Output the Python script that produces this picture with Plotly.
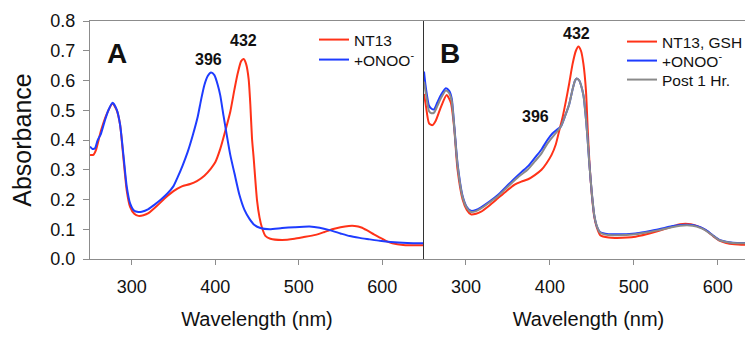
import plotly.graph_objects as go

# ---------------- Data ----------------
# Panel A
a_red_wl = [250, 254, 257, 263, 270, 277, 282, 286, 290, 294, 298, 303, 308, 314, 320, 330, 340, 350, 360, 370,
            378, 387, 395, 400, 406, 412, 418, 423, 427, 431, 434, 437, 440, 442, 444, 446, 450, 453, 456, 460,
            466, 480, 495, 505, 520, 530, 540, 550, 560, 567, 575, 582, 590, 598, 605, 612, 625, 650]
a_red_abs = [0.350, 0.350, 0.365, 0.430, 0.487, 0.523, 0.500, 0.452, 0.340, 0.230, 0.175, 0.152, 0.145, 0.147,
             0.154, 0.178, 0.205, 0.228, 0.244, 0.252, 0.262, 0.280, 0.305, 0.325, 0.370, 0.430, 0.495, 0.570,
             0.625, 0.665, 0.672, 0.655, 0.605, 0.520, 0.406, 0.340, 0.198, 0.140, 0.105, 0.078, 0.068, 0.064,
             0.068, 0.073, 0.081, 0.090, 0.100, 0.107, 0.111, 0.111, 0.106, 0.096, 0.083, 0.071, 0.060, 0.053,
             0.047, 0.046]

a_blue_wl = [250, 253, 256, 259, 263, 268, 272, 277, 282, 286, 290, 294, 298, 303, 308, 312, 320, 327, 335, 343,
             350, 355, 361, 367, 373, 379, 383, 387, 391, 395, 399, 403, 406, 410, 413, 418, 423, 429, 435, 441,
             447, 454, 465, 480, 495, 513, 525, 537, 550, 561, 573, 585, 597, 610, 630, 650]
a_blue_abs = [0.378, 0.370, 0.372, 0.398, 0.420, 0.467, 0.500, 0.525, 0.502, 0.452, 0.350, 0.243, 0.187, 0.162,
              0.158, 0.159, 0.168, 0.182, 0.200, 0.221, 0.245, 0.275, 0.315, 0.360, 0.415, 0.478, 0.535, 0.585,
              0.615, 0.627, 0.618, 0.585, 0.550, 0.480, 0.430, 0.350, 0.288, 0.215, 0.165, 0.135, 0.114, 0.104,
              0.100, 0.104, 0.107, 0.109, 0.105, 0.097, 0.086, 0.077, 0.071, 0.066, 0.061, 0.057, 0.054, 0.053]

# Panel B
b_wl = [250, 252, 256, 259, 262, 266, 271, 276, 280, 283, 286, 290, 296, 301, 306, 312, 318, 328, 338, 348,
        358, 366, 374, 382, 390, 397, 403, 409, 413, 418, 423, 427, 430, 432, 435, 437, 440, 443, 445, 447,
        450, 453, 456, 460, 466, 475, 502, 515, 530, 545, 555, 570, 580, 586, 594, 602, 610, 618, 642]
b_red_wl = [250, 252, 256, 260, 264, 270, 277, 282, 286, 290, 296, 301, 306, 312, 318, 328, 338, 348, 358, 366,
            374, 382, 390, 396, 402, 407, 411, 415, 419, 423, 427, 431, 434, 437, 440, 443, 445, 447, 450, 453,
            456, 460, 470, 480, 502, 515, 530, 545, 555, 568, 578, 586, 594, 602, 610, 620, 642]
b_red_abs = [0.555, 0.520, 0.456, 0.450, 0.465, 0.510, 0.551, 0.525, 0.440, 0.300, 0.200, 0.165, 0.150, 0.152,
             0.159, 0.180, 0.204, 0.228, 0.250, 0.260, 0.268, 0.282, 0.300, 0.322, 0.350, 0.385, 0.430, 0.475,
             0.530, 0.590, 0.655, 0.700, 0.714, 0.700, 0.655, 0.565, 0.440, 0.330, 0.215, 0.140, 0.105, 0.080,
             0.072, 0.071, 0.075, 0.083, 0.095, 0.108, 0.117, 0.117, 0.108, 0.096, 0.078, 0.062, 0.054, 0.050,
             0.047]
b_blue_abs = [0.630, 0.580, 0.515, 0.505, 0.503, 0.527, 0.555, 0.574, 0.565, 0.540, 0.450, 0.320, 0.212, 0.175,
              0.162, 0.165, 0.174, 0.193, 0.215, 0.243, 0.271, 0.292, 0.312, 0.340, 0.368, 0.400, 0.422, 0.436,
              0.445, 0.480, 0.520, 0.570, 0.600, 0.607, 0.600, 0.585, 0.550, 0.470, 0.400, 0.320, 0.220, 0.145,
              0.110, 0.090, 0.085, 0.083, 0.086, 0.092, 0.100, 0.110, 0.114, 0.114, 0.106, 0.097, 0.080, 0.064,
              0.058, 0.055, 0.053]
b_gray_abs = [0.596, 0.560, 0.497, 0.490, 0.492, 0.515, 0.545, 0.566, 0.557, 0.532, 0.445, 0.315, 0.208, 0.172,
              0.158, 0.161, 0.170, 0.190, 0.211, 0.238, 0.265, 0.284, 0.302, 0.328, 0.355, 0.388, 0.410, 0.430,
              0.445, 0.480, 0.520, 0.570, 0.600, 0.607, 0.600, 0.585, 0.550, 0.470, 0.400, 0.320, 0.220, 0.145,
              0.110, 0.088, 0.082, 0.080, 0.083, 0.089, 0.097, 0.107, 0.112, 0.112, 0.104, 0.095, 0.079, 0.063,
              0.057, 0.054, 0.052]

x_ticks = [300, 400, 500, 600]

RED = "#FF3218"
BLUE = "#1E3CFF"
GRAY = "#8A8A8A"
FONT = "Liberation Sans, Arial, sans-serif"
AXC = "#8C8C8C"

# The page body has an 8px default margin, so the figure is sized to fit the 753x339 window.
W, H = 745, 331
L, T, B = 82, 13, 80
PW, PH = W - L, H - T - B  # 663 x 238


def px_x(sx):  # screen x (reference pixels) -> paper x
    return (sx - 8 - L) / PW


def px_y(sy):  # screen y -> paper y
    return (H - B - (sy - 8)) / PH


fig = go.Figure()


def add(x, y, name, color, xa, ya, leg):
    fig.add_trace(go.Scatter(x=x, y=y, mode="lines", name=name,
                             line=dict(color=color, width=2, shape="spline", smoothing=0.6),
                             xaxis=xa, yaxis=ya, legend=leg))


add(a_red_wl, a_red_abs, "NT13", RED, "x", "y", "legend")
add(a_blue_wl, a_blue_abs, "+ONOO<sup>-</sup>", BLUE, "x", "y", "legend2")
add(b_red_wl, b_red_abs, "NT13, GSH", RED, "x2", "y2", "legend3")
add(b_wl, b_blue_abs, "+ONOO<sup>-</sup>", BLUE, "x2", "y2", "legend4")
add(b_wl, b_gray_abs, "Post 1 Hr.", GRAY, "x2", "y2", "legend5")

d = 334 / 663

xcommon = dict(tickvals=x_ticks, ticks="outside", ticklen=5, tickcolor=AXC, showline=True, linecolor=AXC,
               linewidth=1, mirror=True, showgrid=False, zeroline=False, ticklabelstandoff=6, automargin=False,
               tickfont=dict(family=FONT, size=18, color="#111"),
               title=dict(text="Wavelength (nm)", font=dict(family=FONT, size=20, color="#111"), standoff=16))

legfont = dict(family=FONT, size=15.5, color="#111")


def leg(sx, sy):
    return dict(x=px_x(sx), y=px_y(sy), xanchor="left", yanchor="middle", bgcolor="rgba(0,0,0,0)",
                font=legfont, itemwidth=30, borderwidth=0)


fig.update_layout(
    width=W, height=H,
    margin=dict(l=L, r=0, t=T, b=B, autoexpand=False, pad=0),
    paper_bgcolor="white", plot_bgcolor="white",
    xaxis=dict(domain=[0, d], range=[250, 650], anchor="y", **xcommon),
    xaxis2=dict(domain=[d, 1], range=[250, 642], anchor="y2", **xcommon),
    yaxis=dict(range=[0, 0.8], dtick=0.1, tickformat=".1f", ticks="outside", ticklen=6, tickcolor=AXC,
               showline=True, linecolor=AXC, linewidth=1, showgrid=False, zeroline=False, anchor="x",
               automargin=False, ticklabelstandoff=4, tickfont=dict(family=FONT, size=18, color="#111"),
               title=dict(text="Absorbance", font=dict(family=FONT, size=25, color="#111"), standoff=12)),
    yaxis2=dict(range=[0, 0.8], showline=True, linecolor="#333", linewidth=1, showgrid=False, zeroline=False,
                showticklabels=False, ticks="", anchor="x2", automargin=False),
    legend=leg(314, 40),
    legend2=leg(314, 60),
    legend3=leg(622, 42),
    legend4=leg(622, 61),
    legend5=leg(622, 80),
    showlegend=True,
)

bold = dict(family=FONT, size=16, color="#111")
ann = [
    dict(x=282, y=0.69, xref="x", yref="y", text="<b>A</b>", font=dict(family=FONT, size=28, color="#111")),
    dict(x=281, y=0.69, xref="x2", yref="y2", text="<b>B</b>", font=dict(family=FONT, size=28, color="#111")),
    dict(x=433.6, y=0.736, xref="x", yref="y", text="<b>432</b>", font=bold),
    dict(x=392.5, y=0.669, xref="x", yref="y", text="<b>396</b>", font=bold),
    dict(x=431.7, y=0.759, xref="x2", yref="y2", text="<b>432</b>", font=bold),
    dict(x=383.3, y=0.478, xref="x2", yref="y2", text="<b>396</b>", font=bold),
]
for a in ann:
    a.update(showarrow=False, xanchor="center", yanchor="middle")
fig.update_layout(annotations=ann)

fig.write_html("out.html")
